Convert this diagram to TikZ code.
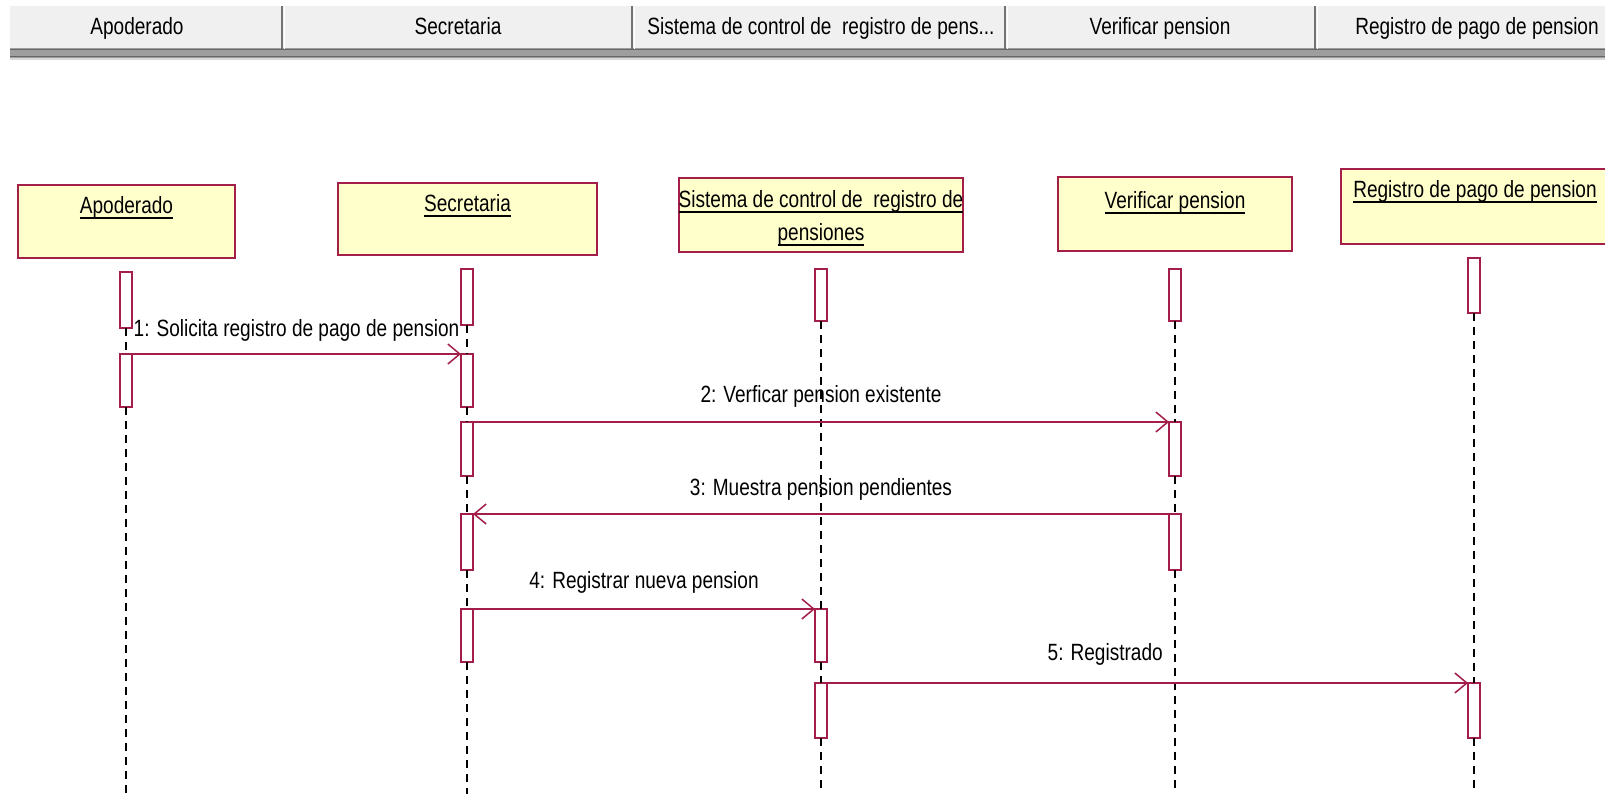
\documentclass[tikz,border=0pt]{standalone}
\usepackage{fontspec}
\setmainfont[FakeStretch=0.81]{Liberation Sans}
\usetikzlibrary{arrows.meta}
\definecolor{umlred}{RGB}{163,30,72}
\definecolor{umlfill}{RGB}{255,255,204}
\definecolor{hdrfill}{RGB}{240,240,240}
\newcommand\uscore[1]{\setbox0\hbox{#1}\rlap{\rule[-5.5pt]{\wd0}{2pt}}\box0}
\begin{document}
\begin{tikzpicture}[x=1pt,y=-1pt,
  every node/.style={font=\fontsize{23.5}{28}\selectfont, inner sep=0pt, outer sep=0pt},
  actorbox/.style={draw=umlred, fill=umlfill, line width=2pt},
  actbar/.style={draw=umlred, fill=white, line width=1.8pt, minimum width=12pt},
  lifeline/.style={draw=black, line width=1.5pt, dash pattern=on 8pt off 6pt},
  msg/.style={draw=umlred, line width=2pt, -{Straight Barb[length=12pt,width=20pt,line width=1.5pt]}},
  txt/.style={anchor=base},
]
\useasboundingbox (0,0) rectangle (1605,793);
\clip (0,0) rectangle (1605,793);
\fill[white] (0,0) rectangle (1605,793);

% header bar
\fill[hdrfill] (10,6) rectangle (1610,48);
\fill[black!38] (10,48) rectangle (1610,58);
\draw[black!60, line width=1.5pt] (10,49.5) -- (1610,49.5);
\draw[black!60, line width=1.5pt] (10,56.5) -- (1610,56.5);
\fill[black!15] (10,58) rectangle (1610,59.5);
\foreach \sx in {282,632,1005,1315}{
  \draw[black!55, line width=2pt] (\sx,6) -- (\sx,49);
  \draw[white, line width=1pt] (\sx+2,6) -- (\sx+2,49);
}
\node[txt] (h1) at (137,34) {Apoderado};
\node[txt] (h2) at (458,34) {Secretaria};
\node[txt] (h3) at (821,34) {Sistema de control de\ \ registro de pens...};
\node[txt] (h4) at (1160,34) {Verificar pension};
\node[txt] (h5) at (1477,34) {Registro de pago de pension};

% actor boxes
\node[actorbox, minimum width=217pt, minimum height=73pt] (A) at (126.5,221.5) {};
\node[actorbox, minimum width=259pt, minimum height=72pt] (S) at (467.5,219) {};
\node[actorbox, minimum width=284pt, minimum height=74pt] (C) at (821,215) {};
\node[actorbox, minimum width=234pt, minimum height=74pt] (V) at (1175,214) {};
\node[actorbox, minimum width=270pt, minimum height=75pt] (R) at (1476,206.5) {};

\node[txt] (Al) at (126.5,213) {\uscore{Apoderado}};
\node[txt] (Sl) at (467.5,211) {\uscore{Secretaria}};
\node[txt] (Cl1) at (821,207.5) {\uscore{Sistema de control de\ \ registro de}};
\node[txt] (Cl2) at (821,240) {\uscore{pensiones}};
\node[txt] (Vl) at (1175,208) {\uscore{Verificar pension}};
\node[txt] (Rl) at (1475,197) {\uscore{Registro de pago de pension}};

% activation bars
\node[actbar, minimum height=56pt] (a1) at (126,300) {};
\node[actbar, minimum height=53pt] (a2) at (126,380.5) {};
\node[actbar, minimum height=56pt] (s1) at (467,297) {};
\node[actbar, minimum height=53pt] (s2) at (467,380.5) {};
\node[actbar, minimum height=54pt] (s3) at (467,449) {};
\node[actbar, minimum height=56pt] (s4) at (467,542) {};
\node[actbar, minimum height=53pt] (s5) at (467,635.5) {};
\node[actbar, minimum height=52pt] (c1) at (821,295) {};
\node[actbar, minimum height=53pt] (c2) at (821,635.5) {};
\node[actbar, minimum height=55pt] (c3) at (821,710.5) {};
\node[actbar, minimum height=52pt] (v1) at (1175,295) {};
\node[actbar, minimum height=54pt] (v2) at (1175,449) {};
\node[actbar, minimum height=56pt] (v3) at (1175,542) {};
\node[actbar, minimum height=55pt] (r1) at (1474,285.5) {};
\node[actbar, minimum height=55pt] (r2) at (1474,710.5) {};

\coordinate (aEnd) at (126,800);
\coordinate (sEnd) at (467,800);
\coordinate (cEnd) at (821,800);
\coordinate (vEnd) at (1175,800);
\coordinate (rEnd) at (1474,800);

% lifelines
\draw[lifeline] (a1.south) -- (a2.north);
\draw[lifeline] (a2.south) -- (aEnd);
\draw[lifeline] (s1.south) -- (s2.north);
\draw[lifeline] (s2.south) -- (s3.north);
\draw[lifeline] (s3.south) -- (s4.north);
\draw[lifeline] (s4.south) -- (s5.north);
\draw[lifeline] (s5.south) -- (sEnd);
\draw[lifeline] (c1.south) -- (c2.north);
\draw[lifeline] (c2.south) -- (c3.north);
\draw[lifeline] (c3.south) -- (cEnd);
\draw[lifeline] (v1.south) -- (v2.north);
\draw[lifeline] (v2.south) -- (v3.north);
\draw[lifeline] (v3.south) -- (vEnd);
\draw[lifeline] (r1.south) -- (r2.north);
\draw[lifeline] (r2.south) -- (rEnd);

% messages
\draw[msg] (a2.north east) -- node[txt, midway, yshift=18pt] (m1) {1: Solicita registro de pago de pension} (s2.north west);
\draw[msg] (s3.north east) -- node[txt, midway, yshift=20pt] (m2) {2: Verficar pension existente} (v2.north west);
\draw[msg] (v3.north west) -- node[txt, midway, yshift=19pt] (m3) {3: Muestra pension pendientes} (s4.north east);
\draw[msg] (s5.north east) -- node[txt, midway, yshift=21pt] (m4) {4: Registrar nueva pension} (c2.north west);
\draw[msg] (c3.north east) -- node[txt, pos=0.434, yshift=23pt] (m5) {5: Registrado} (r2.north west);
\end{tikzpicture}
\end{document}
